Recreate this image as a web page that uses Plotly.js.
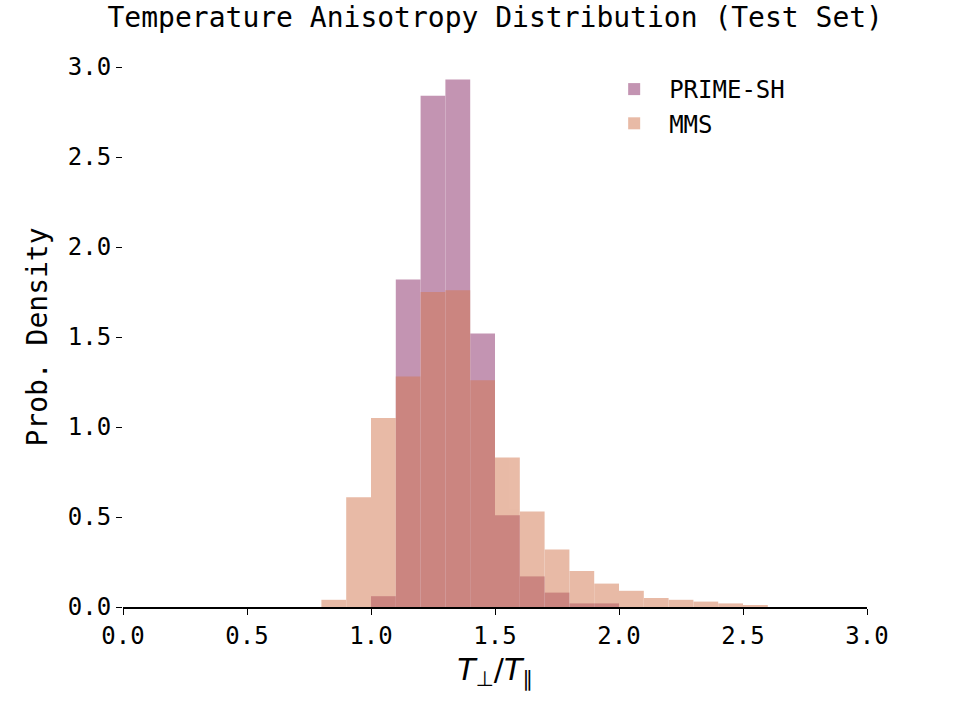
<!DOCTYPE html>
<html>
<head>
<meta charset="utf-8">
<script src="https://cdn.plot.ly/plotly-3.0.1.min.js"></script>
<style>body{margin:0;background:#fff}#chart{width:973px;height:713px}</style>
</head>
<body>
<div id="chart"></div>
<script>
// bin centres, width 0.1
const prime_x = [1.05, 1.15, 1.25, 1.35, 1.45, 1.55, 1.65, 1.75, 1.85, 1.95];
const prime_y = [0.06, 1.82, 2.84, 2.93, 1.52, 0.51, 0.17, 0.08, 0.02, 0.02];

const mms_x = [0.85, 0.95, 1.05, 1.15, 1.25, 1.35, 1.45, 1.55, 1.65, 1.75, 1.85, 1.95, 2.05, 2.15, 2.25, 2.35, 2.45, 2.55];
const mms_y = [0.04, 0.61, 1.05, 1.28, 1.75, 1.76, 1.26, 0.83, 0.53, 0.32, 0.20, 0.13, 0.09, 0.05, 0.04, 0.03, 0.02, 0.01];

const font = "DejaVu Sans Mono, monospace";

let trace_prime = {
    x: prime_x, y: prime_y, type: "bar", name: "PRIME-SH", width: 0.1,
    marker: {color: "rgb(137,43,103)", line: {width: 0}}, opacity: 0.5
};
let trace_mms = {
    x: mms_x, y: mms_y, type: "bar", name: "MMS", width: 0.1,
    marker: {color: "rgb(211,119,79)", line: {width: 0}}, opacity: 0.5
};

let layout = {
    width: 973, height: 713,
    margin: {l: 123, r: 106, t: 67, b: 106},
    barmode: "overlay",
    paper_bgcolor: "#fff", plot_bgcolor: "#fff",
    font: {family: font, size: 24, color: "#000"},
    title: {text: "Temperature Anisotropy Distribution (Test Set)", font: {size: 28}, x: 0.509, xanchor: "center", y: 0.99, yanchor: "top"},
    xaxis: {
        range: [0, 3], tickvals: [0, 0.5, 1, 1.5, 2, 2.5, 3], ticktext: ["0.0","0.5","1.0","1.5","2.0","2.5","3.0"],
        showgrid: false, zeroline: false, showline: true, linecolor: "#000", linewidth: 1.5,
        ticks: "outside", ticklen: 6, tickcolor: "#000",
        title: {text: "<i>T</i><sub>⊥</sub>/<i>T</i><sub>∥</sub>", font: {size: 30, family: "DejaVu Sans"}, standoff: 10}
    },
    yaxis: {
        range: [0, 3], tickvals: [0, 0.5, 1, 1.5, 2, 2.5, 3], ticktext: ["0.0","0.5","1.0","1.5","2.0","2.5","3.0"],
        showgrid: false, zeroline: false, showline: false,
        ticks: "outside", ticklen: 6, tickcolor: "#000",
        title: {text: "Prob. Density", font: {size: 28}, standoff: 12}
    },
    legend: {x: 0.64, y: 1.0, xanchor: "left", yanchor: "top", font: {size: 24}, bgcolor: "rgba(0,0,0,0)", itemwidth: 60}
};

Plotly.newPlot("chart", [trace_prime, trace_mms], layout, {displayModeBar: false});
</script>
</body>
</html>
